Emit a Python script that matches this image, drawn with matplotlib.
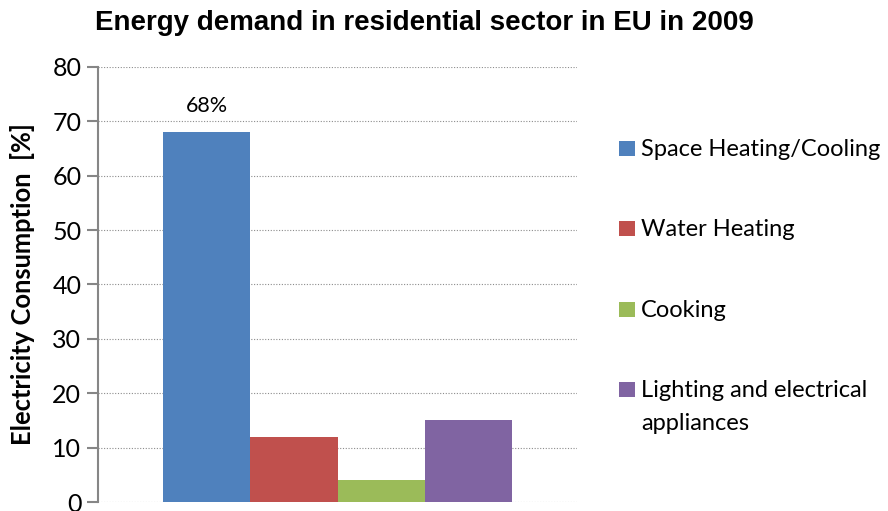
import numpy as np
import matplotlib
from matplotlib import pyplot as plt
from matplotlib.patches import Rectangle

matplotlib.use('Agg')

categories = ["Space Heating/Cooling", "Water Heating", "Cooking", "Lighting and electrical\nappliances"]
values = [68, 12, 4, 15]
colors = ["#4F81BD", "#C0504D", "#9BBB59", "#8064A2"]
yticks = [0, 10, 20, 30, 40, 50, 60, 70, 80]

W, H = 888, 511
fig = plt.figure(figsize=(W / 100, H / 100), dpi=100)
ax = fig.add_axes([0.1104, 0.0176, 0.5394, 0.8513])

x_axis = np.arange(len(values))
ax.bar(x_axis, values, 1.0, color=colors, zorder=3)

ax.set_xlim(-1.245, 4.245)
ax.set_ylim(0, 80)
ax.set_yticks(yticks)
ax.set_xticks([])
ax.grid(True, axis="y", linestyle=(0, (1, 1.5)), color="#8c8c8c", linewidth=0.8, zorder=0)
for side in ["top", "right", "bottom"]:
    ax.spines[side].set_visible(False)
ax.spines["left"].set_color("#868686")
ax.spines["left"].set_linewidth(1.5)
ax.tick_params(axis="y", length=8, width=1.5, color="#868686", labelsize=18, pad=4)
for lbl in ax.get_yticklabels():
    lbl.set_fontfamily("Lato")

ax.text(x_axis[0], values[0] + 3, f"{values[0]}%", ha="center", va="bottom",
        fontsize=15.5, fontfamily="Lato")

ax.set_ylabel("Electricity Consumption  [%]", fontsize=18.4, fontweight="bold",
              fontfamily="Lato")
ax.yaxis.set_label_coords(-0.131, 0.5)

fig.text(0.478, 0.955, "Energy demand in residential sector in EU in 2009", ha="center", va="center",
         fontsize=20, fontweight="bold", fontfamily="Liberation Sans")

# legend drawn by hand so the marker sits on the first line of a wrapped label
for i, (label, color) in enumerate(zip(categories, colors)):
    base = 156 + i * 80.3
    fig.add_artist(Rectangle((619 / W, 1 - base / H), 16 / W, 15 / H,
                             transform=fig.transFigure, facecolor=color, edgecolor="none"))
    for j, line in enumerate(label.split("\n")):
        fig.text(641 / W, 1 - (base + j * 33) / H, line, ha="left", va="baseline",
                 fontsize=17, fontfamily="Lato")

plt.savefig("out.png", dpi=100)
